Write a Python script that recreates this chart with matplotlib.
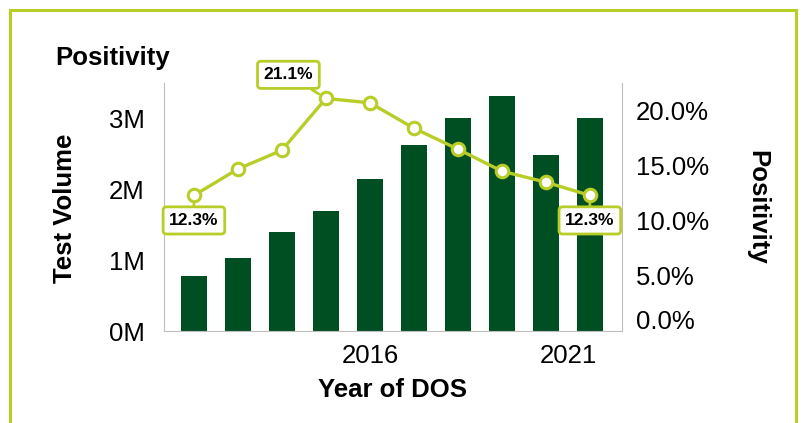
import matplotlib.pyplot as plt
from matplotlib.patches import Rectangle
from matplotlib.ticker import FuncFormatter
from matplotlib.transforms import ScaledTranslation

plt.rcParams['font.family'] = ['Liberation Sans', 'DejaVu Sans']

years = [2012, 2013, 2014, 2015, 2016, 2017, 2018, 2019, 2020, 2021]
test_volume = [0.78, 1.03, 1.40, 1.70, 2.15, 2.62, 3.01, 3.32, 2.49, 3.01]  # millions
positivity = [12.3, 14.7, 16.4, 21.1, 20.7, 18.4, 16.5, 14.5, 13.5, 12.3]  # percent
labelled = {2012: 'below', 2015: 'above', 2021: 'below'}

bar_color = '#004f23'
line_color = '#b8cd27'
grey = '#bdbdbd'

fig = plt.figure(figsize=(8.08, 4.23), dpi=100)
fig.patches.append(Rectangle((10 / 808, -0.1), 786 / 808, 1.1 - 10 / 423,
                             transform=fig.transFigure, fill=False,
                             edgecolor=line_color, linewidth=2.2))

ax = fig.add_axes([164 / 808, 1 - 331 / 423, 458 / 808, 248 / 423])
ax.bar(years, test_volume, width=0.59, color=bar_color, zorder=2)
ax.set_xlim(2011.32, 2021.73)
ax.set_ylim(0, 3.5)
ax.set_yticks([0, 1, 2, 3])
ax.yaxis.set_major_formatter(FuncFormatter(lambda v, p: f'{v:.0f}M'))
ax.set_xticks([2016, 2021])
ax.tick_params(axis='both', length=0, labelsize=18.5)
ax.tick_params(axis='y', pad=14)
ax.tick_params(axis='x', pad=9)
for s in ['top', 'right']:
    ax.spines[s].set_visible(False)
for s in ['left', 'bottom']:
    ax.spines[s].set_color(grey)

ax2 = ax.twinx()
ax2.plot(years, positivity, color=line_color, linewidth=2.4, marker='o',
         markersize=9, markerfacecolor='white', markeredgecolor=line_color,
         markeredgewidth=2.2, zorder=3)
ax2.set_ylim(0, 22.5)
ax2.set_yticks([0, 5, 10, 15, 20])
ax2.yaxis.set_major_formatter(FuncFormatter(lambda v, p: f'{v:.1f}%'))
ax2.tick_params(axis='y', length=0, labelsize=18.5, pad=10)
for s in ['top', 'left', 'bottom']:
    ax2.spines[s].set_visible(False)
ax2.spines['right'].set_color(grey)

# nudge a couple of tick labels the way the original renderer did
fig.canvas.draw()
lbl0 = ax2.get_yticklabels()[0]
lbl0.set_transform(lbl0.get_transform() + ScaledTranslation(0, 0.12, fig.dpi_scale_trans))
lbl21 = ax.get_xticklabels()[1]
lbl21.set_transform(lbl21.get_transform() + ScaledTranslation(-0.22, 0, fig.dpi_scale_trans))

for yr, val in zip(years, positivity):
    if yr not in labelled:
        continue
    if labelled[yr] == 'above':
        offset = (-27, 17)
    else:
        offset = (0, -18)
    ax2.annotate(f'{val:.1f}%', (yr, val), xytext=offset, textcoords='offset points',
                 ha='center', va='center', fontsize=12.5, fontweight='bold',
                 bbox=dict(boxstyle='round,pad=0.35,rounding_size=0.2',
                           facecolor='white', edgecolor=line_color, linewidth=2),
                 arrowprops=dict(arrowstyle='-', color=line_color, linewidth=2,
                                 shrinkA=0, shrinkB=6),
                 zorder=5)

fig.text(55 / 808, 1 - 58 / 423, 'Positivity', fontsize=18.5, fontweight='bold',
         ha='left', va='center')
fig.text(65 / 808, 1 - 208 / 423, 'Test Volume', fontsize=18.5, fontweight='bold',
         rotation=90, ha='center', va='center')
fig.text(757 / 808, 1 - 207 / 423, 'Positivity', fontsize=18.5, fontweight='bold',
         rotation=270, ha='center', va='center')
fig.text(392 / 808, 1 - 390 / 423, 'Year of DOS', fontsize=18.5, fontweight='bold',
         ha='center', va='center')

fig.savefig('out.png', dpi=100)
